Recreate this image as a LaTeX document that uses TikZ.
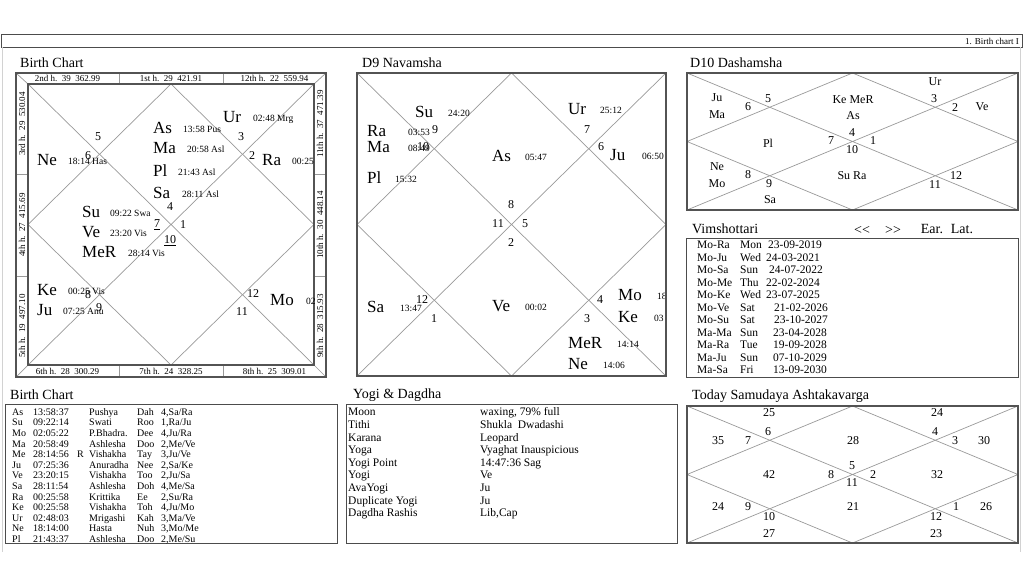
\documentclass[tikz,border=0pt]{standalone}
\usepackage{fontspec}
\setmainfont{Liberation Serif}
\tikzset{
  chartln/.style={gray!80, line width=0.7pt},
  chartbox/.style={gray!65!black, line width=2pt},
  tblbox/.style={gray!60!black, line width=0.8pt},
  ttl/.style={font=\fontsize{14}{14}\selectfont, anchor=west, inner sep=0pt, text height=9.3pt, text depth=0pt},
  pln/.style={font=\fontsize{17}{17}\selectfont, anchor=west, inner sep=0pt, text height=11.3pt, text depth=0pt},
  pdeg/.style={font=\fontsize{9.5}{9.5}\selectfont, anchor=west, inner sep=0pt, text height=6.4pt, text depth=0pt},
  hnum/.style={font=\fontsize{12}{12}\selectfont, inner sep=0pt},
  strip/.style={font=\fontsize{9}{9}\selectfont, inner sep=0pt, text height=6pt, text depth=0pt},
  tcell/.style={font=\fontsize{10}{10}\selectfont, anchor=west, inner sep=0pt, text height=6.6pt, text depth=0pt},
  ycell/.style={font=\fontsize{11.5}{11.5}\selectfont, anchor=west, inner sep=0pt, text height=7.6pt, text depth=0pt},
  vcell/.style={font=\fontsize{11.5}{11.5}\selectfont, anchor=west, inner sep=0pt, text height=7.6pt, text depth=0pt},
  nav/.style={font=\fontsize{14}{14}\selectfont, inner sep=0pt}
}
\begin{document}
\begin{tikzpicture}[x=1pt,y=-1pt]
\useasboundingbox (0,0) rectangle (1024,576);
% 页头
\draw[tblbox] (1,34) rectangle (1022,47);
\node[font=\fontsize{9}{9}\selectfont, anchor=east, inner sep=0pt] (hdr) at (1019,41) {1. Birth chart I};
\draw[gray!35, line width=1pt] (2,47) -- (2,552) (1020,47) -- (1020,552);
% 出生盘
\node[ttl] (t1) at (20,63) {Birth Chart};
\draw[chartln] (16,73) -- (28,84) (326,73) -- (314,84) (16,377) -- (28,365) (326,377) -- (314,365);
\draw[chartln] (119,73) -- (119,84) (223,73) -- (223,84) (119,365) -- (119,377) (223,365) -- (223,377)
  (16,174) -- (28,174) (16,276) -- (28,276) (314,174) -- (326,174) (314,276) -- (326,276);
\draw[chartln] (28,84) -- (314,365) (314,84) -- (28,365);
\draw[chartln] (171,84) -- (314,224.5) -- (171,365) -- (28,224.5) -- cycle;
\draw[chartbox] (16,73) rectangle (326,377);
\draw[chartbox] (28,84) rectangle (314,365);
\foreach \x/\t [count=\i] in {67.5/{2nd h.~~39~~362.99}, 171/{1st h.~~29~~421.91}, 274.5/{12th h.~~22~~559.94}}
  \node[strip] (st\i) at (\x,78.5) {\t};
\foreach \x/\t [count=\i] in {67.5/{6th h.~~28~~300.29}, 171/{7th h.~~24~~328.25}, 274.5/{8th h.~~25~~309.01}}
  \node[strip] (sb\i) at (\x,371) {\t};
\foreach \y/\t [count=\i] in {124/{3rd h.~~29~~530.04}, 225/{4th h.~~27~~415.69}, 326/{5th h.~~19~~497.10}}
  \node[strip, rotate=90] (sl\i) at (22,\y) {\t};
\foreach \y/\t [count=\i] in {124/{11th h.~~37~~471.39}, 225/{10th h.~~30~~448.14}, 326/{9th h.~~28~~315.93}}
  \node[strip, rotate=90] (sr\i) at (320,\y) {\t};
\foreach \p/\px/\d/\dx/\y [count=\i] in {As/153/{13:58 Pus}/183/128, Ma/153/{20:58 Asl}/187/148,
  Pl/153/{21:43 Asl}/178/171, Sa/153/{28:11 Asl}/182/193, Ur/223/{02:48 Mrg}/253/117,
  Ra/262/{00:25}/292/160, Ne/37/{18:14 Has}/68/160, Su/82/{09:22 Swa}/110/212,
  Ve/82/{23:20 Vis}/110/232, MeR/82/{28:14 Vis}/128/252, Ke/37/{00:25 Vis}/68/290,
  Ju/37/{07:25 Anu}/63/310, Mo/270/{02}/306/300}
{
  \node[pln] (bp\i) at (\px,\y) {\p};
  \node[pdeg] (bd\i) at (\dx,\y+1.5) {\d};
}
\foreach \n/\x/\y [count=\i] in {5/98/137, 6/88/156, 3/241/137, 2/252/156, 4/170/207, 1/183/225,
  \underline{7}/157/225, \underline{10}/170/241, 8/88/295, 9/99/308, 12/253/294, 11/242/312}
  \node[hnum] (bh\i) at (\x,\y) {\n};
% 九分盘
\node[ttl] (t2) at (362,63) {D9 Navamsha};
\draw[chartln] (357,73) -- (666,376) (666,73) -- (357,376);
\draw[chartln] (511.5,73) -- (666,224.5) -- (511.5,376) -- (357,224.5) -- cycle;
\foreach \p/\px/\d/\dx/\y [count=\i] in {Su/415/{24:20}/448/112, Ra/367/{03:53}/408/131,
  Ma/367/{08:49}/408/147, Pl/367/{15:32}/395/178, As/492/{05:47}/525/156,
  Ur/568/{25:12}/600/109, Ju/610/{06:50}/642/155, Sa/367/{13:47}/400/307,
  Ve/492/{00:02}/525/306, Mo/618/{18}/657/295, Ke/618/{03}/654/317,
  MeR/568/{14:14}/617/343, Ne/568/{14:06}/603/364}
{
  \node[pln] (np\i) at (\px,\y) {\p};
  \node[pdeg] (nd\i) at (\dx,\y+1.5) {\d};
}
\foreach \n/\x/\y [count=\i] in {9/435/130, 10/423/147, 7/587/130, 6/601/147, 8/511/205, 11/498/224,
  5/525/224, 2/511/243, 12/422/300, 1/434/319, 4/600/300, 3/587/319}
  \node[hnum] (nh\i) at (\x,\y) {\n};
\draw[chartbox] (357,73) rectangle (666,376);
% 十分盘
\node[ttl] (t3) at (690,63) {D10 Dashamsha};
\draw[chartln] (687,73) -- (1018,210) (1018,73) -- (687,210);
\draw[chartln] (852.5,73) -- (1018,141.5) -- (852.5,210) -- (687,141.5) -- cycle;
\draw[chartbox] (687,73) rectangle (1018,210);
\foreach \n/\x/\y [count=\i] in {Ur/935/82, {Ke MeR}/853/100, As/853/116, Ve/982/107, Ju/717/98,
  Ma/717/115, Pl/768/143, Ne/717/167, Mo/717/184, Sa/770/200, {Su Ra}/852/176,
  5/768/99, 6/748/107, 3/934/99, 2/955/108, 4/852/133, 7/831/141, 1/873/141, 10/852/150,
  8/748/175, 9/769/184, 12/956/176, 11/935/185}
  \node[hnum] (dh\i) at (\x,\y) {\n};
% 大运
\node[ttl] (t4) at (692,229) {Vimshottari};
\node[nav] (prev) at (862,230) {<\kern0pt<};
\node[nav] (next) at (893,230) {>\kern0pt>};
\node[nav] (ear) at (932,229) {Ear.};
\node[nav] (lat) at (962,229) {Lat.};
\draw[tblbox] (686,238) rectangle (1018,377);
\foreach \a/\b/\c/\dx [count=\i] in {Mo-Ra/Mon/23-09-2019/768, Mo-Ju/Wed/24-03-2021/766,
  Mo-Sa/Sun/24-07-2022/769, Mo-Me/Thu/22-02-2024/766, Mo-Ke/Wed/23-07-2025/766,
  Mo-Ve/Sat/21-02-2026/774, Mo-Su/Sat/23-10-2027/774, Ma-Ma/Sun/23-04-2028/773,
  Ma-Ra/Tue/19-09-2028/773, Ma-Ju/Sun/07-10-2029/773, Ma-Sa/Fri/13-09-2030/773}
{
  \node[vcell] (va\i) at (697,245+\i*12.5-12.5) {\a};
  \node[vcell] (vb\i) at (740,245+\i*12.5-12.5) {\b};
  \node[vcell] (vc\i) at (\dx,245+\i*12.5-12.5) {\c};
}
% 出生盘表
\node[ttl] (t5) at (10,395) {Birth Chart};
\draw[tblbox] (5,404) rectangle (337,543);
\foreach \a/\b/\r/\c/\d/\e [count=\i] in {As/13:58:37/{}/Pushya/Dah/{4,Sa/Ra},
  Su/09:22:14/{}/Swati/Roo/{1,Ra/Ju}, Mo/02:05:22/{}/P.Bhadra./Dee/{4,Ju/Ra},
  Ma/20:58:49/{}/Ashlesha/Doo/{2,Me/Ve}, Me/28:14:56/R/Vishakha/Tay/{3,Ju/Ve},
  Ju/07:25:36/{}/Anuradha/Nee/{2,Sa/Ke}, Ve/23:20:15/{}/Vishakha/Too/{2,Ju/Sa},
  Sa/28:11:54/{}/Ashlesha/Doh/{4,Me/Sa}, Ra/00:25:58/{}/Krittika/Ee/{2,Su/Ra},
  Ke/00:25:58/{}/Vishakha/Toh/{4,Ju/Mo}, Ur/02:48:03/{}/Mrigashi/Kah/{3,Ma/Ve},
  Ne/18:14:00/{}/Hasta/Nuh/{3,Mo/Me}, Pl/21:43:37/{}/Ashlesha/Doo/{2,Me/Su}}
{
  \node[tcell] (ta\i) at (12,412+\i*10.6-10.6) {\a};
  \node[tcell] (tb\i) at (33,412+\i*10.6-10.6) {\b};
  \node[tcell] (tr\i) at (77,412+\i*10.6-10.6) {\r};
  \node[tcell] (tc\i) at (89,412+\i*10.6-10.6) {\c};
  \node[tcell] (td\i) at (137,412+\i*10.6-10.6) {\d};
  \node[tcell] (te\i) at (161,412+\i*10.6-10.6) {\e};
}
% 瑜伽
\node[ttl] (t6) at (353,394) {Yogi \& Dagdha};
\draw[tblbox] (346,404) rectangle (677,543);
\foreach \a/\b [count=\i] in {Moon/{waxing, 79\% full}, Tithi/{Shukla~~Dwadashi}, Karana/Leopard,
  Yoga/{Vyaghat Inauspicious}, {Yogi Point}/{14:47:36 Sag}, Yogi/Ve, AvaYogi/Ju,
  {Duplicate Yogi}/Ju, {Dagdha Rashis}/{Lib,Cap}}
{
  \node[ycell] (ya\i) at (348,412+\i*12.6-12.6) {\a};
  \node[ycell] (yb\i) at (480,412+\i*12.6-12.6) {\b};
}
% 八分
\node[ttl] (t7) at (692,395) {Today Samudaya Ashtakavarga};
\draw[chartln] (687,406) -- (1018,543) (1018,406) -- (687,543);
\draw[chartln] (852.5,406) -- (1018,474.5) -- (852.5,543) -- (687,474.5) -- cycle;
\draw[chartbox] (687,406) rectangle (1018,543);
\foreach \n/\x/\y [count=\i] in {25/769/413, 6/768/432, 7/748/441, 35/718/441, 28/853/441,
  24/937/413, 4/935/432, 3/955/441, 30/984/441, 42/769/475, 8/831/475, 5/852/466, 2/873/475,
  11/852/483, 32/937/475, 24/718/507, 9/748/507, 10/769/517, 27/769/534, 21/853/507,
  1/956/507, 12/936/517, 26/986/507, 23/936/534}
  \node[hnum] (sh\i) at (\x,\y) {\n};
\end{tikzpicture}
\end{document}
